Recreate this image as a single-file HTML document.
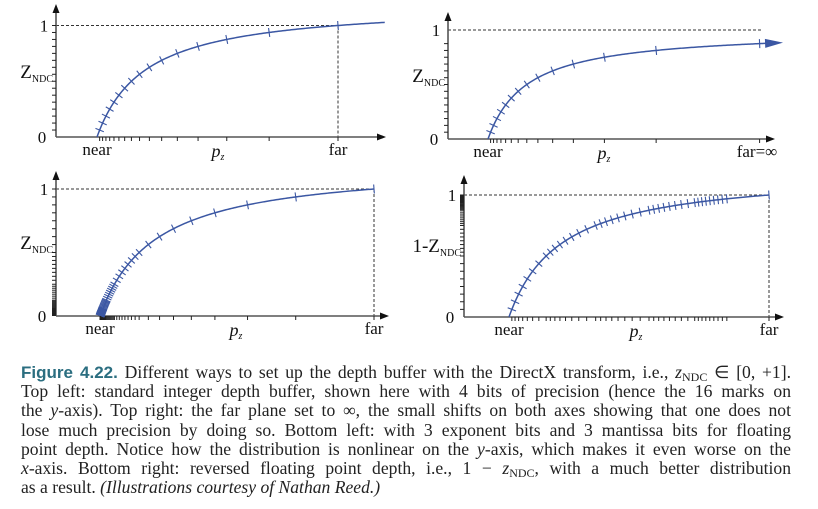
<!DOCTYPE html>
<html><head><meta charset="utf-8">
<style>
html,body{margin:0;padding:0;background:#fff;}
body{width:818px;height:509px;position:relative;overflow:hidden;}
svg{position:absolute;left:0;top:0;}
.lbl{font-family:"Liberation Serif",serif;font-size:17px;fill:#111;}
#caption{position:absolute;left:21px;top:363px;width:770px;font-family:"Liberation Serif",serif;font-size:17.6px;line-height:19.2px;color:#222;}
#caption .ln{text-align:justify;text-align-last:justify;white-space:nowrap;height:19.2px;}
#caption .ln.last{text-align-last:left;}
.fig{font-family:"Liberation Sans",sans-serif;font-weight:bold;color:#2b6e80;font-size:17px;}
sub{font-size:12px;vertical-align:-3px;line-height:0;}
</style></head>
<body>
<svg id="chart" width="818" height="509"></svg>
<div id="caption">
<div class="ln"><span class="fig">Figure 4.22.</span> Different ways to set up the depth buffer with the DirectX transform, i.e., <i>z</i><sub>NDC</sub> ∈ [0, +1].</div>
<div class="ln">Top left: standard integer depth buffer, shown here with 4 bits of precision (hence the 16 marks on</div>
<div class="ln">the <i>y</i>-axis). Top right: the far plane set to ∞, the small shifts on both axes showing that one does not</div>
<div class="ln">lose much precision by doing so. Bottom left: with 3 exponent bits and 3 mantissa bits for floating</div>
<div class="ln">point depth. Notice how the distribution is nonlinear on the <i>y</i>-axis, which makes it even worse on the</div>
<div class="ln"><i>x</i>-axis. Bottom right: reversed floating point depth, i.e., 1 − <i>z</i><sub>NDC</sub>, with a much better distribution</div>
<div class="ln last">as a result. <i>(Illustrations courtesy of Nathan Reed.)</i></div>
</div>
<script>
// Data: depth values of the marks (z in [0,1])
const intMarks = [0.0625,0.125,0.1875,0.25,0.3125,0.375,0.4375,0.5,0.5625,0.625,0.6875,0.75,0.8125,0.875,0.9375,1];
const infMarks = [0.0625,0.125,0.1875,0.25,0.3125,0.375,0.4375,0.5,0.5625,0.625,0.6875,0.75,0.8125,0.875];
const floatExponents = [1,2,3,4,5,6,7,8];
const revExponents = [1,2,3,4,5];
const floatMantissas = [0,1,2,3,4,5,6,7];
const farRatio = 6;

const floatVals = [1];
floatExponents.forEach(e=>floatMantissas.forEach(m=>floatVals.push((1+m/8)*Math.pow(2,-e))));
const revVals = [];
revExponents.forEach(e=>floatMantissas.forEach(m=>revVals.push(1-(1+m/8)*Math.pow(2,-e))));
revVals.push(1);
const revAxis = floatVals.map(w=>1-w).filter(v=>v>0).concat([1]);

const svg = document.getElementById('chart');
const NS='http://www.w3.org/2000/svg';
function mk(tag, attrs, parent){const e=document.createElementNS(NS,tag);for(const k in attrs)e.setAttribute(k,attrs[k]);(parent||svg).appendChild(e);return e;}
const BLUE='#3b57a3', AX='#555';

function panel(o){
  const g=mk('g',{});
  
  
  const r=o.r;
  const zOf=p=> r===Infinity ? 1-1/p : r/(r-1)*(1-1/p);
  const pOf=z=> r===Infinity ? 1/(1-z) : 1/(1-z*(r-1)/r);
  const X=p=>o.nearX+(p-1)*o.unit;
  const Y=z=>o.y0-z*(o.y0-o.y1);
  const dh=mk('line',{x1:o.ax,y1:Y(1),x2:o.dashEnd,y2:Y(1),stroke:'#333','stroke-width':1,'stroke-dasharray':'3,2'},g);
  
  
  if(o.farX){
    const dv=mk('line',{x1:o.farX,y1:Y(1),x2:o.farX,y2:o.y0,stroke:'#333','stroke-width':1,'stroke-dasharray':'3,2'},g);
    
    
  }
  const xa=mk('line',{x1:o.ax,y1:o.y0,x2:o.xEnd-6,y2:o.y0,stroke:AX,'stroke-width':1.6},g);
  
  
  mk('polygon',{points:`${o.xEnd},${o.y0} ${o.xEnd-9},${o.y0-3.5} ${o.xEnd-9},${o.y0+3.5}`,fill:'#111'},g);
  const ya=mk('line',{x1:o.ax,y1:o.y0,x2:o.ax,y2:o.yTop+6,stroke:AX,'stroke-width':1.6},g);
  
  
  mk('polygon',{points:`${o.ax},${o.yTop} ${o.ax-3.5},${o.yTop+9} ${o.ax+3.5},${o.yTop+9}`,fill:'#111'},g);
  let d='';
  const N=200;
  for(let i=0;i<=N;i++){const p=1+(o.pEnd-1)*i/N;d+=(i?'L':'M')+X(p).toFixed(2)+','+Y(zOf(p)).toFixed(2);}
  const c=mk('path',{d:d,fill:'none',stroke:BLUE,'stroke-width':1.5},g);
  
  
  if(o.arrow){
    const pe=o.pEnd, xe=X(pe), ye=Y(zOf(pe));
    const x2=X(pe-0.05), y2=Y(zOf(pe-0.05));
    const a=Math.atan2(ye-y2,xe-x2);
    const L=12,W=4.5;
    const bx=xe-L*Math.cos(a), by=ye-L*Math.sin(a);
    const ah=mk('polygon',{points:`${xe+6*Math.cos(a)},${ye+6*Math.sin(a)} ${bx-W*Math.sin(a)},${by+W*Math.cos(a)} ${bx+W*Math.sin(a)},${by-W*Math.cos(a)}`,fill:BLUE},g);
    
    
  }
  (o.axisMarks||o.marks).forEach(z=>{
    const y=Y(z);
    const yt=mk('line',{x1:o.ax-4,y1:y,x2:o.ax,y2:y,stroke:'#222','stroke-width':1},g);
    
    
  });
  o.marks.forEach(z=>{
    const p=pOf(z), x=X(p), y=Y(z);
    const xt=mk('line',{x1:x,y1:o.y0,x2:x,y2:o.y0+4,stroke:'#222','stroke-width':1},g);
    
    
    const dz=r===Infinity?1/(p*p):r/(r-1)/(p*p);
    const dx=o.unit, dy=-dz*(o.y0-o.y1);
    const len=Math.hypot(dx,dy), nx=-dy/len*4.5, ny=dx/len*4.5;
    const cm=mk('line',{x1:x-nx,y1:y-ny,x2:x+nx,y2:y+ny,stroke:BLUE,'stroke-width':1.1},g);
    
    
  });
  const t=(txt,x,y,anchor,name,extra)=>{const e=mk('text',Object.assign({x:x,y:y,'text-anchor':anchor,class:'lbl'},extra||{}),g);e.textContent=txt;return e;};
  t('1',o.ax-12,Y(1)+6,'middle','y-label-one',{'font-size':18});
  t('0',o.ax-14,o.y0+6,'middle','y-label-zero',{'font-size':18});
  t('near',o.nearX,o.y0+18,'middle','near-label');
  t(o.farText,o.farLabelX,o.y0+18,'middle','far-label');
  const pz=t('',o.pzX,o.y0+20,'middle','x-axis-title');
  const pi=document.createElementNS(NS,'tspan');pi.setAttribute('font-style','italic');pi.setAttribute('font-size','18');pi.textContent='p';pz.appendChild(pi);
  const ps=document.createElementNS(NS,'tspan');ps.setAttribute('font-style','italic');ps.setAttribute('font-size','10');ps.setAttribute('dy','3');ps.textContent='z';pz.appendChild(ps);
  const yl=t('',o.ax-3,o.yLabelY,'end','y-axis-title');
  const a1=document.createElementNS(NS,'tspan');a1.setAttribute('font-size','19');a1.textContent=o.yPrefix+'Z';yl.appendChild(a1);
  const a2=document.createElementNS(NS,'tspan');a2.setAttribute('font-size','10');a2.setAttribute('dy','4');a2.textContent='NDC';yl.appendChild(a2);
}

panel({name:'top-left-integer-depth',ax:56,nearX:97,unit:48.2,y0:137,y1:25.5,yTop:4,xEnd:386,r:farRatio,pEnd:6.97,
  farX:338,dashEnd:338,marks:intMarks,farText:'far',farLabelX:338,pzX:218,yPrefix:'',yLabelY:78});
panel({name:'top-right-infinite-far',ax:448,nearX:488,unit:38.8,y0:139,y1:30,yTop:12,xEnd:775,r:Infinity,pEnd:8.45,arrow:true,
  farX:null,dashEnd:761,marks:infMarks,farText:'far=∞',farLabelX:757,pzX:604,yPrefix:'',yLabelY:82});
panel({name:'bottom-left-float-depth',ax:56,nearX:100,unit:54.8,y0:316,y1:189,yTop:171,xEnd:389,r:farRatio,pEnd:6,
  farX:374,dashEnd:374,marks:floatVals,farText:'far',farLabelX:374,pzX:236,yPrefix:'',yLabelY:249});
panel({name:'bottom-right-reversed-float',ax:464,nearX:509,unit:52,y0:317,y1:195,yTop:175,xEnd:784,r:farRatio,pEnd:6,
  farX:769,dashEnd:769,marks:revVals,axisMarks:revAxis,farText:'far',farLabelX:769,pzX:636,yPrefix:'1-',yLabelY:252});
</script>
</body></html>
